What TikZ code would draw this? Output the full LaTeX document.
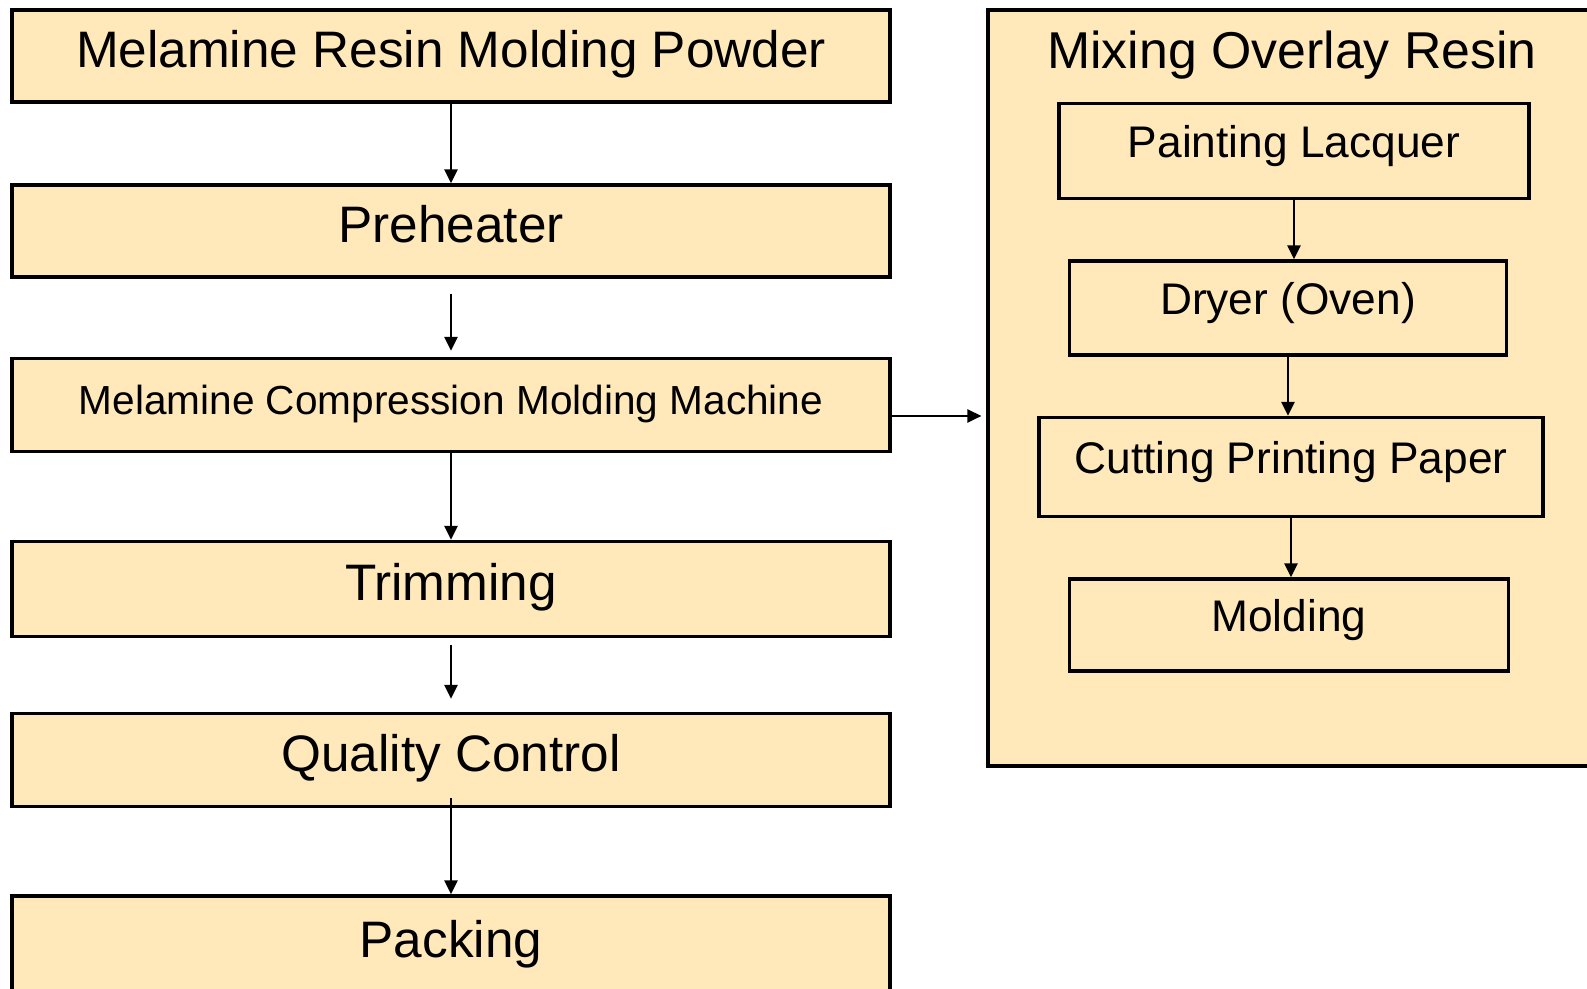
\documentclass[tikz,border=0pt]{standalone}
\usepackage{fontspec}
\setmainfont{Liberation Sans}
\usetikzlibrary{arrows.meta, positioning}

\newlength\px
\setlength\px{0.02cm}
\definecolor{boxfill}{RGB}{255,233,186}

\begin{document}
\begin{tikzpicture}[
    x=1\px, y=-1\px,
    stepbox/.style={draw, line width=0.65mm, fill=boxfill, align=center, inner sep=0pt,
        text height=19pt, text depth=6pt, font=\fontsize{29.2}{34}\selectfont},
    mainbox/.style={stepbox, minimum width=17.56cm},
    subbox/.style={stepbox, text height=8.6pt, text depth=1.2pt, font=\fontsize{25.2}{30}\selectfont},
    flow/.style={-{Triangle[length=2.8mm, width=2.6mm]}, line width=0.5mm}
]
    \useasboundingbox (0,0) rectangle (1587,989);

    % main line
    \node[mainbox, minimum height=1.84cm] (powder) at (451,56) {Melamine Resin Molding Powder};
    \node[mainbox, minimum height=1.84cm] (preheat) at (451,231) {Preheater};
    \node[mainbox, minimum height=1.86cm, text height=12pt, text depth=1pt, font=\fontsize{23.1}{28}\selectfont] (press) at (451,405) {Melamine Compression Molding Machine};
    \node[mainbox, minimum height=1.9cm] (trim) at (451,589) {Trimming};
    \node[mainbox, minimum height=1.86cm] (qc) at (451,760) {Quality Control};
    \node[mainbox, minimum height=2cm] (pack) at (451,946) {Packing};

    % overlay resin
    \node[stepbox, minimum width=12.44cm, minimum height=15.12cm] (overlay) at (1299,388) {};
    \node[font=\fontsize{29.5}{34}\selectfont] (title) at (1292,55) {Mixing Overlay Resin};
    \node[subbox, minimum width=9.4cm, minimum height=1.9cm] (lacquer) at (1294,151) {Painting Lacquer};
    \node[subbox, minimum width=8.74cm, minimum height=1.88cm] (dryer) at (1288,308) {Dryer (Oven)};
    \node[subbox, minimum width=10.08cm, minimum height=1.98cm] (cutting) at (1291,467) {Cutting Printing Paper};
    \node[subbox, minimum width=8.78cm, minimum height=1.84cm] (molding) at (1289,625) {Molding};

    \draw[flow] (powder) -- (preheat);
    \draw[flow, shorten <=3mm, shorten >=1.2mm] (preheat) -- (press);
    \draw[flow] (press) -- (trim);
    \draw[flow, shorten <=1.4mm, shorten >=2.6mm] (trim) -- (qc);
    \draw[flow, shorten <=-2mm] (qc) -- (pack);
    \draw[flow, shorten >=1mm] ([yshift=-2.2mm]press.east) -- ([yshift=-2.2mm]press.east -| overlay.west);

    \draw[flow] (lacquer.south) -- (lacquer.south |- dryer.north);
    \draw[flow] (dryer.south) -- (dryer.south |- cutting.north);
    \draw[flow] (cutting.south) -- (cutting.south |- molding.north);
\end{tikzpicture}
\end{document}
